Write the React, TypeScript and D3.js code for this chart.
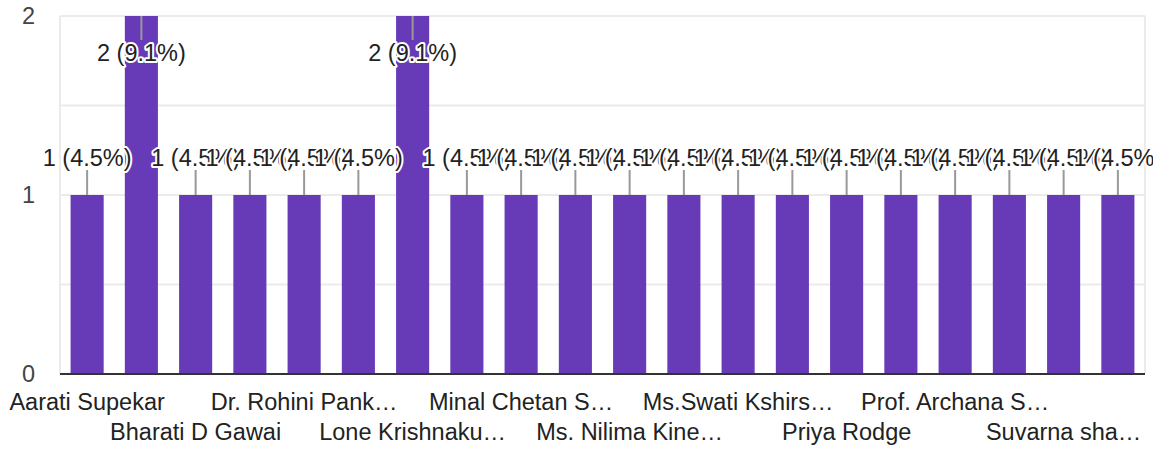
import React from "react";
import * as d3 from "d3";

const categories: string[] = [
  "Aarati Supekar", "", "Bharati D Gawai", "", "Dr. Rohini Pank…", "",
  "Lone Krishnaku…", "", "Minal Chetan S…", "", "Ms. Nilima Kine…", "",
  "Ms.Swati Kshirs…", "", "Priya Rodge", "", "Prof. Archana S…", "",
  "Suvarna sha…", "",
];
const values: number[] = [1, 2, 1, 1, 1, 1, 2, 1, 1, 1, 1, 1, 1, 1, 1, 1, 1, 1, 1, 1];
const yTicks: number[] = [0, 1, 2];
const gridTicks: number[] = [0.5, 1, 1.5, 2];
const total = 22;

const W = 1153;
const H = 450;
const left = 60;
const right = 1145;
const top = 16;
const bottom = 374;
const FONT = "Arial, 'Liberation Sans', sans-serif";
const FS = 23.5;

export default function App() {
  const x = d3
    .scaleBand<number>()
    .domain(values.map((_, i) => i))
    .range([left, right])
    .paddingInner(0.39)
    .paddingOuter(0.195);
  const y = d3.scaleLinear().domain([0, 2]).range([bottom, top]);
  const bw = x.bandwidth();
  const fmt = (v: number) => `${v} (${d3.format(".1f")((v / total) * 100)}%)`;
  const maxV = d3.max(values) as number;

  return (
    <svg
      width={W}
      height={H}
      style={{ position: "absolute", left: 0, top: 0, background: "#fff" }}
      fontFamily={FONT}
    >
      {gridTicks.map((t) => (
        <line key={t} x1={left} x2={right} y1={y(t)} y2={y(t)} stroke="#ebebeb" strokeWidth={2} />
      ))}
      <line x1={left} x2={left} y1={top} y2={bottom} stroke="#ebebeb" strokeWidth={2} />
      <line x1={right} x2={right} y1={top} y2={bottom} stroke="#ebebeb" strokeWidth={2} />
      {values.map((v, i) => (
        <rect key={i} x={x(i)} y={y(v)} width={bw} height={y(0) - y(v)} fill="#673ab7" />
      ))}
      <line x1={left} x2={right} y1={y(0)} y2={y(0)} stroke="#333" strokeWidth={2} />
      {yTicks.map((t) => (
        <text key={t} x={35} y={y(t)} dy="0.35em" textAnchor="end" fontSize={FS} fill="#444">
          {t}
        </text>
      ))}
      {categories.map((c, i) =>
        c ? (
          <text
            key={i}
            x={(x(i) as number) + bw / 2}
            y={(i / 2) % 2 === 0 ? 410 : 440}
            textAnchor="middle"
            fontSize={FS}
            fill="#222"
          >
            {c}
          </text>
        ) : null
      )}
      {values.map((v, i) => {
        const cx = (x(i) as number) + bw / 2;
        const atTop = v === maxV;
        const y0 = y(v);
        const y1 = atTop ? y0 + 24 : y0 - 25;
        const ty = atTop ? y1 + 21 : y1 - 4;
        return (
          <g key={i}>
            <line x1={cx} x2={cx} y1={y0} y2={y1} stroke="#999" strokeWidth={2} />
            <text
              x={cx}
              y={ty}
              textAnchor="middle"
              fontSize={FS}
              fill="#222"
              stroke="#fff"
              strokeWidth={4}
              paintOrder="stroke"
              strokeLinejoin="round"
            >
              {fmt(v)}
            </text>
          </g>
        );
      })}
    </svg>
  );
}
